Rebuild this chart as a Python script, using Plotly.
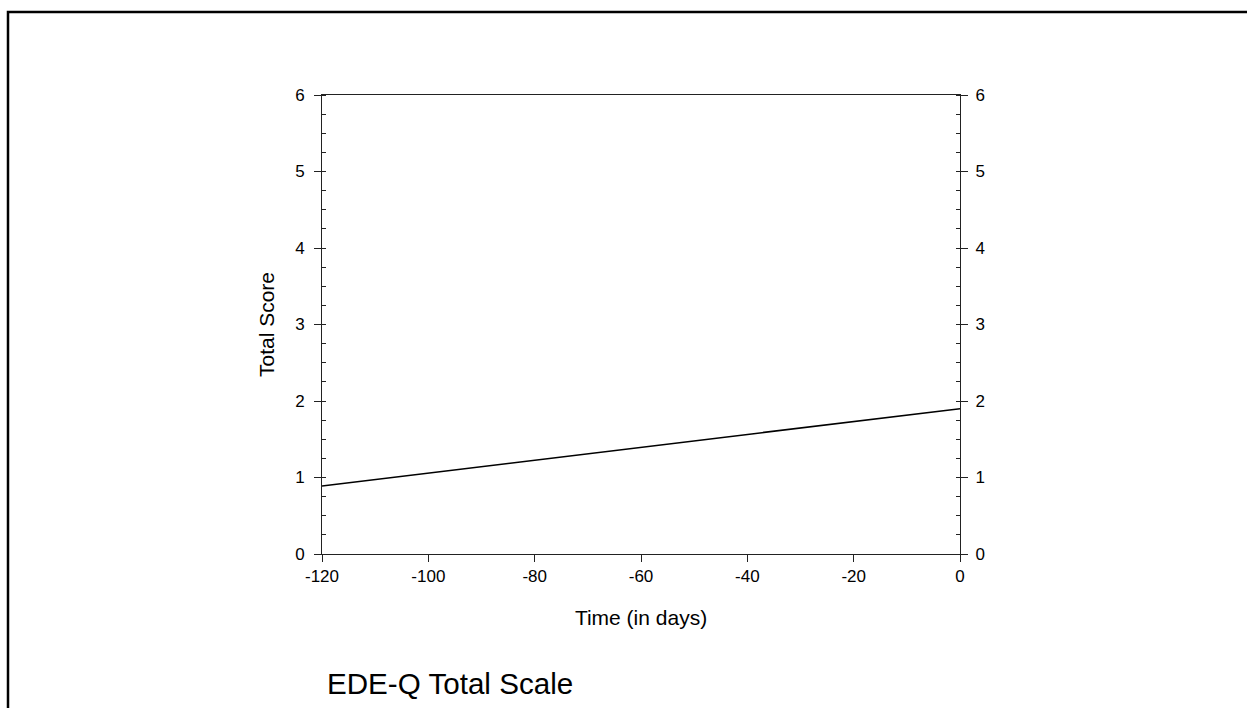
import plotly.graph_objects as go

# Data
time_days = [-120, 0]
total_score = [0.89, 1.90]
x_ticks = [-120, -100, -80, -60, -40, -20, 0]
x_tick_labels = ["-120", "-100", "-80", "-60", "-40", "-20", "0"]
y_ticks = [0, 1, 2, 3, 4, 5, 6]
y_tick_labels = ["0", "1", "2", "3", "4", "5", "6"]

W, H = 1247, 708
L, R, T, B = 322, 960, 95, 554
pw, ph = R - L, B - T

def px(xp):
    return (xp - L) / pw

def py(yp):
    return (B - yp) / ph

FONT = "Liberation Sans, Arial, sans-serif"

fig = go.Figure()
fig.add_trace(go.Scatter(x=time_days, y=total_score, mode="lines",
                         line=dict(color="black", width=1.5), showlegend=False,
                         hoverinfo="skip"))
# invisible trace for right axis
fig.add_trace(go.Scatter(x=time_days, y=total_score, mode="lines", yaxis="y2",
                         line=dict(color="rgba(0,0,0,0)", width=0), showlegend=False,
                         hoverinfo="skip"))

axis_common = dict(showgrid=False, zeroline=False, showline=True, linecolor="#222",
                   linewidth=1, tickcolor="#222", tickwidth=1,
                   tickfont=dict(family=FONT, size=17, color="black"))

fig.update_layout(
    width=W, height=H,
    margin=dict(l=L, r=W - R, t=T, b=H - B),
    paper_bgcolor="white", plot_bgcolor="white",
    font=dict(family=FONT, color="black"),
    xaxis=dict(range=[-120, 0], tickvals=x_ticks, ticktext=x_tick_labels,
               ticks="outside", ticklen=7, ticklabelstandoff=0,
               mirror=True,
               title=dict(text="Time (in days)", font=dict(family=FONT, size=21), standoff=24),
               **axis_common),
    yaxis=dict(range=[0, 6], tickvals=y_ticks, ticktext=y_tick_labels,
               ticks="outside", ticklen=7, ticklabelstandoff=6,
               minor=dict(dtick=0.25, ticks="inside", ticklen=4, tickcolor="#222"),
               title=dict(text="Total Score", font=dict(family=FONT, size=21), standoff=14),
               **axis_common),
    yaxis2=dict(range=[0, 6], tickvals=y_ticks, ticktext=y_tick_labels,
                ticks="outside", ticklen=7, ticklabelstandoff=4,
                overlaying="y", side="right",
                minor=dict(dtick=0.25, ticks="inside", ticklen=4, tickcolor="#222"),
                **axis_common),
    shapes=[dict(type="rect", xref="paper", yref="paper",
                 x0=px(8), x1=px(1260), y0=py(730), y1=py(12),
                 line=dict(color="black", width=2.5), fillcolor="rgba(0,0,0,0)")],
    annotations=[dict(text="EDE-Q Total Scale", xref="paper", yref="paper",
                      x=px(325), y=py(683), xanchor="left", yanchor="middle",
                      showarrow=False, font=dict(family=FONT, size=29.6, color="black"))],
)

fig.write_html("out.html")
